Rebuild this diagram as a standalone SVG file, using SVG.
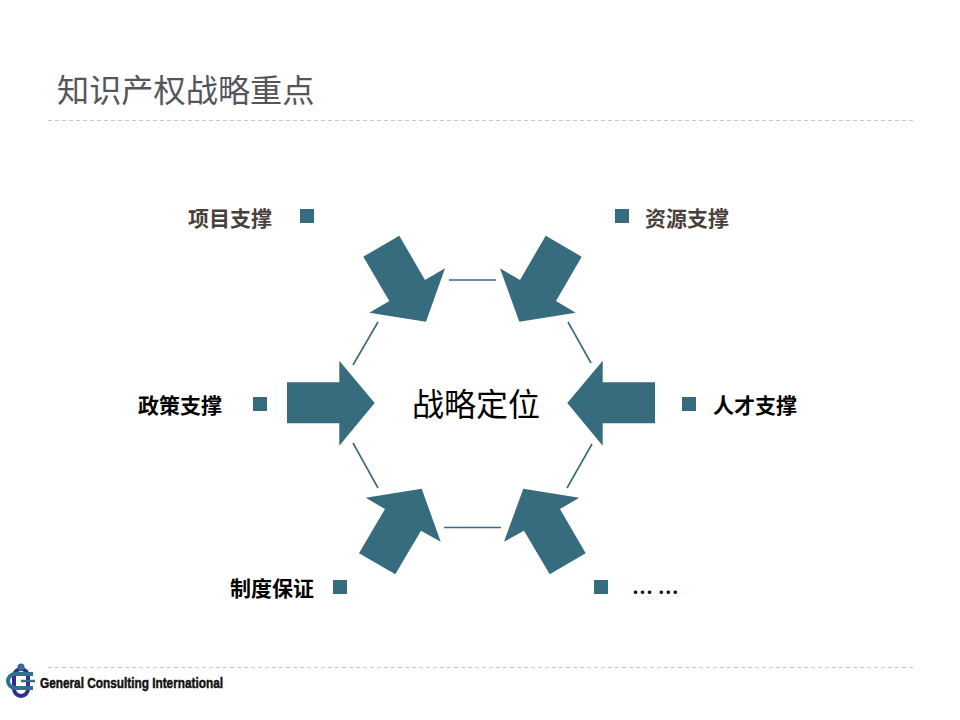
<svg xmlns="http://www.w3.org/2000/svg" width="960" height="720" viewBox="0 0 960 720">
<style>
.a{fill:#376B7E}
.s{fill:#376B7E}
.l{stroke:#376B7E;stroke-width:1.6;fill:none}
.d{stroke:#C4C8C6;stroke-width:1;stroke-dasharray:4 3;fill:none}
text{font-family:"Noto Sans CJK SC","Liberation Sans",sans-serif}
.t{font-size:21px;font-weight:700;fill:#000}
.b{fill:#4A3F3B}
</style>
<rect width="960" height="720" fill="#fff"/>
<g id="title"><text x="57" y="102" font-size="32.200" fill="#55565C">知识产权战略重点</text></g>
<path class="d" d="M48 120.500H913"/>
<path class="d" d="M48 667.500H913"/>
<g id="connectors">
<path class="l" d="M449 280H496M444 527.500H501M378 322L353 365M353 443L378 488M568 322L591 363M592 444L567 488"/>
</g>
<g id="center"><text x="476" y="416" font-size="32" text-anchor="middle" fill="#000">战略定位</text></g>
<g id="arrow-tl"><polygon class="a" points="399.300,235.700 363.300,256.700 389.300,301 369.300,312.700 426,321.700 445,268.300 425,280"/></g>
<g id="arrow-tr"><polygon class="a" points="545.700,235.700 581.700,256.700 556,301 575.700,312.700 519.300,321.700 500,268.300 520,280"/></g>
<g id="arrow-l"><polygon class="a" points="287,382.300 339.300,382.300 339.300,360.700 374.700,403 339.300,445.700 339.300,423.300 287,423.300"/></g>
<g id="arrow-r"><polygon class="a" points="655,382.300 602.700,382.300 602.700,360.700 567.300,403 602.700,445.700 602.700,423.300 655,423.300"/></g>
<g id="arrow-bl"><polygon class="a" points="421.700,488.700 365.700,497.700 385,509 359,553.300 395.300,574.300 421,530.700 440.700,541.700"/></g>
<g id="arrow-br"><polygon class="a" points="523.300,488.700 579.300,497.700 560,509 585.700,553.300 549.700,574.300 524,530.700 504,541.700"/></g>
<g id="node-1"><rect class="s" x="300" y="209" width="14" height="14"/><text class="t b" x="188" y="226">项目支撑</text></g>
<g id="node-2"><rect class="s" x="615" y="209" width="14" height="14"/><text class="t b" x="645" y="226">资源支撑</text></g>
<g id="node-3"><rect class="s" x="253" y="397" width="14" height="14"/><text class="t" x="138" y="413">政策支撑</text></g>
<g id="node-4"><rect class="s" x="682" y="397" width="14" height="14"/><text class="t" x="713" y="413">人才支撑</text></g>
<g id="node-5"><rect class="s" x="333" y="580" width="14" height="14"/><text class="t" x="230" y="596">制度保证</text></g>
<g id="node-6"><rect class="s" x="594" y="580" width="14" height="14"/><text class="t" x="632" y="600">… …</text></g>
<g id="logo">
<rect x="14" y="669" width="14" height="27" rx="7" fill="none" stroke="#2F2F8F" stroke-width="4"/>
<path d="M33 674H15a7 7 0 0 0 0 14H33" fill="none" stroke="#2F6F8F" stroke-width="4"/>
<path d="M21 681H35" stroke="#2F6F8F" stroke-width="2.500"/>
<circle cx="21" cy="667" r="3.500" fill="#2F6F8F"/>
<text x="40" y="688" font-size="15.500" font-weight="700" fill="#111" stroke="#111" stroke-width="0.500" style="font-family:'Liberation Sans',sans-serif" textLength="183" lengthAdjust="spacingAndGlyphs">General Consulting International</text>
</g>
</svg>
